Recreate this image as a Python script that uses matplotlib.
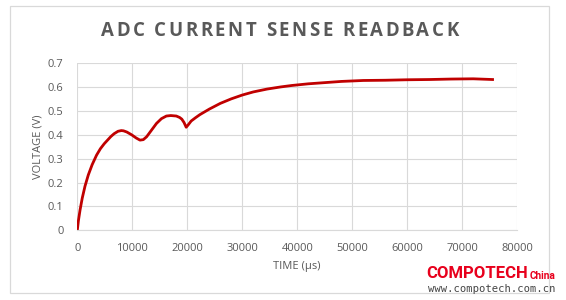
import matplotlib
matplotlib.use("Agg")
import matplotlib.pyplot as plt
from matplotlib.patches import Rectangle
from matplotlib.ticker import FixedLocator, FuncFormatter

# ---- data ----
time_us = [0, 200, 500, 900, 1400, 2000, 2700, 3500, 4200, 4900, 5500, 6100,
           6700, 7400, 8000, 8400, 9000, 9900, 10700, 11400, 12000, 12600,
           13500, 14400, 15300, 16200, 17000, 18000, 18600, 19000, 19400,
           19800, 20200, 20700, 21500, 22300, 24000, 26000, 28000, 30000,
           32000, 34500, 37000, 39000, 42000, 45000, 48000, 52000, 56000,
           60000, 64000, 68000, 72000, 75500]
voltage_v = [0, 0.04, 0.085, 0.135, 0.185, 0.232, 0.275, 0.315, 0.342, 0.363,
             0.378, 0.393, 0.405, 0.415, 0.418, 0.417, 0.412, 0.40, 0.387,
             0.378, 0.380, 0.392, 0.42, 0.448, 0.468, 0.479, 0.481, 0.479,
             0.473, 0.466, 0.452, 0.432, 0.443, 0.458, 0.472, 0.485, 0.508,
             0.532, 0.551, 0.567, 0.580, 0.592, 0.601, 0.607, 0.614, 0.619,
             0.624, 0.628, 0.629, 0.631, 0.632, 0.634, 0.635, 0.632]
x_ticks = [0, 10000, 20000, 30000, 40000, 50000, 60000, 70000, 80000]
y_ticks = [0, 0.1, 0.2, 0.3, 0.4, 0.5, 0.6, 0.7]
title = "ADC CURRENT SENSE READBACK"
x_label = "TIME (µs)"
y_label = "VOLTAGE (V)"

W, H = 566, 300
fig = plt.figure(figsize=(W / 100, H / 100), dpi=100)
fig.patch.set_facecolor("white")

# outer chart border
fig.patches.append(Rectangle((10 / W, 1 - 293 / H), (549 - 10) / W, (293 - 6) / H,
                             transform=fig.transFigure, fill=False,
                             edgecolor="#D9D9D9", linewidth=0.9))

ax = fig.add_axes([77.3 / W, 1 - 230.3 / H, 440 / W, 167 / H])
ax.plot(time_us, voltage_v, color="#C00000", linewidth=2.0, solid_joinstyle="round")
ax.set_xlim(0, 80000)
ax.set_ylim(0, 0.7)
ax.xaxis.set_major_locator(FixedLocator(x_ticks))
ax.yaxis.set_major_locator(FixedLocator(y_ticks))
ax.xaxis.set_major_formatter(FuncFormatter(lambda v, p: f"{int(round(v))}"))
ax.yaxis.set_major_formatter(FuncFormatter(lambda v, p: "0" if abs(v) < 1e-9 else f"{v:.1f}"))
ax.grid(True, color="#D9D9D9", linewidth=0.8)
ax.set_axisbelow(True)
for s in ["top", "right", "left"]:
    ax.spines[s].set_visible(False)
ax.spines["bottom"].set_color("#D9D9D9")
ax.spines["bottom"].set_linewidth(0.8)
ax.tick_params(length=0, labelcolor="#595959", labelsize=8)
ax.tick_params(axis="x", pad=9)
ax.tick_params(axis="y", pad=10)
for lab in ax.get_xticklabels() + ax.get_yticklabels():
    lab.set_fontfamily("Open Sans")

fig.text(297 / W, 1 - 267 / H, x_label, ha="center", va="center",
         fontsize=8, color="#595959", family="Open Sans")
fig.text(37.5 / W, 1 - 147 / H, y_label, ha="center", va="center",
         rotation=90, fontsize=8, color="#595959", family="Open Sans")

# letter-spaced title
renderer = fig.canvas.get_renderer()
tkw = dict(fontsize=13.4, fontweight="bold", color="#595959", family="Open Sans",
           va="center", ha="left")
def width_px(s):
    t = fig.text(0, 0, s, **tkw)
    w = t.get_window_extent(renderer).width
    t.remove()
    return w
natural = width_px(title)
target = 458.3 - 100.7
n = len(title)
spacing = (target - natural) / (n - 1)
x0 = 100.7
ytitle = 1 - 30.7 / H
for i, ch in enumerate(title):
    if ch == " ":
        continue
    left = width_px(title[:i + 1]) - width_px(ch) if i > 0 else 0
    fig.text((x0 + left + i * spacing) / W, ytitle, ch, **tkw)

# watermark
fig.text(426.5 / W, 1 - 273.5 / H, "COMPOTECH", ha="left", va="center",
         fontsize=12, fontweight="bold", color="#E8001C", family="Roboto")
fig.text(529.5 / W, 1 - 276 / H, "China", ha="left", va="center",
         fontsize=7.3, fontweight="bold", color="#E8001C", family="Roboto")
fig.text(428 / W, 1 - 288.5 / H, "www.compotech.com.cn", ha="left", va="center",
         fontsize=7.6, color="#444444", family="DejaVu Sans Mono")

fig.savefig("out.png", dpi=100)
